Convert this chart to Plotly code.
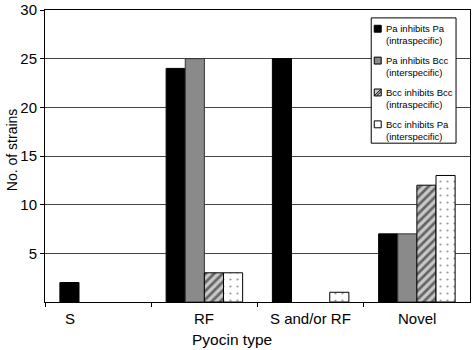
import plotly.graph_objects as go

categories = ["S", "RF", "S and/or RF", "Novel"]
series_names = [
    "Pa inhibits Pa<br>(intraspecific)",
    "Pa inhibits Bcc<br>(interspecific)",
    "Bcc inhibits Bcc<br>(intraspecific)",
    "Bcc inhibits Pa<br>(interspecific)",
]
pa_pa = [2, 24, 25, 7]
pa_bcc = [0, 25, 0, 7]
bcc_bcc = [0, 3, 0, 12]
bcc_pa = [0, 3, 1, 13]
y_ticks = [5, 10, 15, 20, 25, 30]

series_values = [pa_pa, pa_bcc, bcc_bcc, bcc_pa]
styles = [
    dict(color="black", line=dict(color="black", width=1)),
    dict(color="#8a8a8a", line=dict(color="#333333", width=1)),
    dict(color="#c8c8c8", line=dict(color="black", width=1),
         pattern=dict(shape="/", fgcolor="black", bgcolor="#c8c8c8", size=6, solidity=0.45)),
    dict(color="white", line=dict(color="black", width=1),
         pattern=dict(shape=".", fgcolor="#333333", bgcolor="white", size=7, solidity=0.08)),
]

W, H = 472, 350
L, R, T, B = 45, 1, 6, 48
PW, PH = W - L - R, H - T - B


def px2x(px):
    return (px - L) / PW


def px2y(py):
    return (H - B - py) / PH


xpos = list(range(len(categories)))
fig = go.Figure()
for name, vals, st in zip(series_names, series_values, styles):
    fig.add_trace(go.Bar(x=xpos, y=[v if v else None for v in vals], name=name,
                         marker=st, showlegend=False))

font = "Liberation Sans, Arial, Helvetica, sans-serif"
fig.update_layout(
    width=W, height=H,
    margin=dict(l=L, r=R, t=T, b=B),
    paper_bgcolor="white", plot_bgcolor="white",
    barmode="group", bargap=0.28, bargroupgap=0,
    font=dict(family=font, size=15, color="black"),
    showlegend=False,
)
fig.update_xaxes(
    range=[-0.5, len(categories) - 0.5],
    tickvals=[i - 0.5 for i in range(len(categories))],
    ticktext=["" for _ in categories],
    ticks="outside", ticklen=4, tickcolor="black",
    showline=True, linecolor="black", linewidth=1, mirror=True,
    showgrid=False, zeroline=False,
)
fig.update_yaxes(
    range=[0, 30], tickvals=y_ticks,
    ticks="outside", ticklen=4, tickcolor="black",
    showline=True, linecolor="black", linewidth=1, mirror=True,
    showgrid=True, gridcolor="#444444", gridwidth=1,
    zeroline=False, tickfont=dict(size=15), ticklabeloverflow="allow",
)

# category labels
label_shift = {"S": -28}
for i, c in enumerate(categories):
    fig.add_annotation(x=i, y=0, xref="x", yref="paper", yanchor="top", xanchor="center",
                       text=c, showarrow=False, yshift=-6,
                       xshift=label_shift.get(c, 0), font=dict(size=15))
fig.add_annotation(x=px2x(232), y=px2y(340), xref="paper", yref="paper",
                   xanchor="center", yanchor="middle",
                   text="Pyocin type", showarrow=False, font=dict(size=15.5))
fig.add_annotation(x=px2x(12), y=px2y(148), xref="paper", yref="paper",
                   xanchor="center", yanchor="middle",
                   text="No. of strains", textangle=-90, showarrow=False,
                   font=dict(size=14))

# legend box (drawn by hand to match the small key of the original)
fig.add_shape(type="rect", xref="paper", yref="paper",
              x0=px2x(372), x1=px2x(457), y0=px2y(141), y1=px2y(14),
              fillcolor="white", line=dict(color="black", width=1), layer="above")
for k, (name, st) in enumerate(zip(series_names, styles)):
    cy = 25 + k * 32.3
    fill = st.get("pattern", {}).get("bgcolor", st["color"])
    fig.add_shape(type="rect", xref="paper", yref="paper",
                  x0=px2x(375), x1=px2x(382), y0=px2y(cy + 3.5), y1=px2y(cy - 3.5),
                  fillcolor=fill, line=dict(color="black", width=1), layer="above")
    if st.get("pattern", {}).get("shape") == "/":
        for d in (0, 2.5):
            fig.add_shape(type="line", xref="paper", yref="paper",
                          x0=px2x(375 + d), x1=px2x(382), y0=px2y(cy + 3.5), y1=px2y(cy - 3.5 + d),
                          line=dict(color="black", width=1), layer="above")
    fig.add_annotation(x=px2x(385), y=px2y(cy + 6), xref="paper", yref="paper",
                       xanchor="left", yanchor="middle", align="left",
                       text=name, showarrow=False, font=dict(size=9.5))

fig.write_html("out.html", config={"displayModeBar": False},
               post_script="document.body.style.margin='0';document.body.style.overflow='hidden';")
